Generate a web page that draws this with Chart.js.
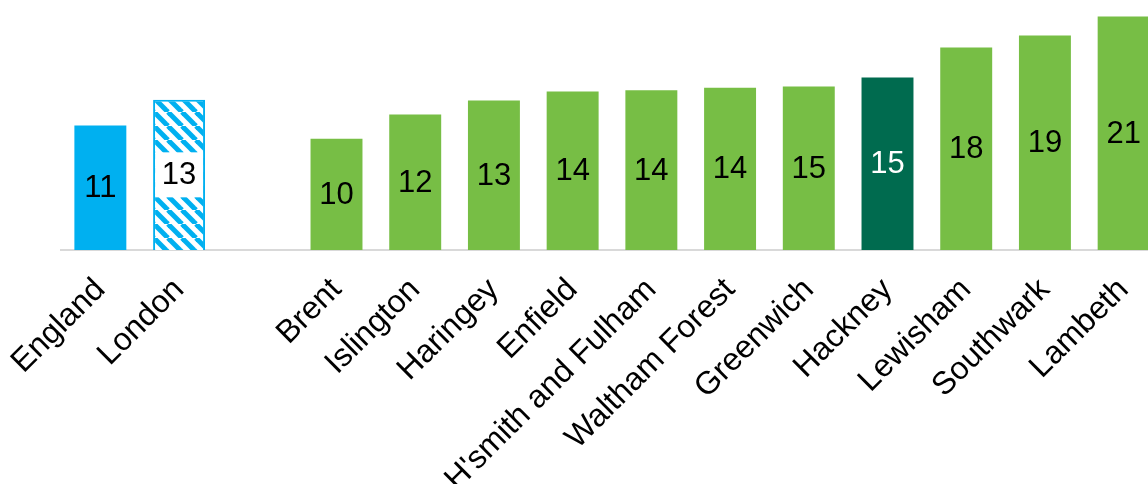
<!DOCTYPE html>
<html>
<head>
<meta charset="utf-8">
<script src="https://cdn.jsdelivr.net/npm/chart.js@4"></script>
<style>
  html, body { margin: 0; padding: 0; background: #fff; overflow: hidden; }
  #wrap { width: 1163px; height: 484px; }
</style>
</head>
<body>
<div id="wrap"><canvas id="c" width="1163" height="484"></canvas></div>
<script>
const categories = ['England', 'London', '', 'Brent', 'Islington', 'Haringey', 'Enfield',
  "H'smith and Fulham", 'Waltham Forest', 'Greenwich', 'Hackney', 'Lewisham', 'Southwark', 'Lambeth'];
const values = [11.05, 13.35, null, 9.88, 12.03, 13.28, 14.08, 14.19, 14.40, 14.52, 15.32, 17.98, 19.05, 20.74];
const valueLabels = ['11', '13', '', '10', '12', '13', '14', '14', '14', '15', '15', '18', '19', '21'];

const BLUE = '#00B0F0', GREEN = '#77BE45', DARK = '#006B4F';

function hatch() {
  const s = 14;
  const c = document.createElement('canvas');
  c.width = s; c.height = s;
  const g = c.getContext('2d');
  g.fillStyle = '#fff'; g.fillRect(0, 0, s, s);
  g.strokeStyle = BLUE; g.lineWidth = 5;
  for (const x0 of [-s, 0, s]) {
    g.beginPath(); g.moveTo(x0, 0); g.lineTo(x0 + s, s); g.stroke();
  }
  return document.getElementById('c').getContext('2d').createPattern(c, 'repeat');
}
const pattern = hatch();
const barColors = categories.map((c, i) => i === 0 ? BLUE : i === 1 ? pattern : c === 'Hackney' ? DARK : GREEN);
const labelColors = categories.map(c => c === 'Hackney' ? '#fff' : '#000');

const FONT = '"Liberation Sans", Arial, sans-serif';

const labelPlugin = {
  id: 'valueLabels',
  afterDatasetsDraw(chart) {
    const ctx = chart.ctx;
    const meta = chart.getDatasetMeta(0);
    ctx.save();
    meta.data.forEach((bar, i) => {
      if (values[i] == null) return;
      const p = bar.getProps(['x', 'y', 'base', 'width'], true);
      const cy = (p.y + p.base) / 2;
      if (i === 1) {
        ctx.fillStyle = '#fff';
        ctx.fillRect(p.x - p.width / 2 + 2, cy - 22.5, p.width - 4, 45);
      }
      ctx.fillStyle = labelColors[i];
      ctx.font = '31px ' + FONT;
      ctx.textAlign = 'center';
      ctx.textBaseline = 'middle';
      ctx.fillText(valueLabels[i], p.x, cy + 1);
    });
    ctx.restore();
  }
};

new Chart(document.getElementById('c'), {
  type: 'bar',
  data: {
    labels: categories,
    datasets: [{
      data: values,
      backgroundColor: barColors,
      borderColor: BLUE,
      borderWidth: categories.map((c, i) => i === 1 ? 2 : 0),
      categoryPercentage: 1,
      barPercentage: 0.66
    }]
  },
  options: {
    responsive: false,
    animation: false,
    layout: { padding: { left: 61, right: 0, top: 0, bottom: 0 } },
    plugins: { legend: { display: false }, tooltip: { enabled: false } },
    scales: {
      x: {
        grid: { display: false, drawTicks: false },
        border: { display: true, color: '#d9d9d9', width: 2 },
        ticks: {
          autoSkip: false, maxRotation: 45, minRotation: 45, padding: 21,
          color: '#000', font: { family: FONT, size: 32 }
        },
        afterFit(scale) {
          scale.height = 234;
          scale.paddingLeft = 0;
          scale.paddingRight = 0;
        }
      },
      y: { display: false, min: 0, max: 22.2 }
    }
  },
  plugins: [labelPlugin]
});
</script>
</body>
</html>
